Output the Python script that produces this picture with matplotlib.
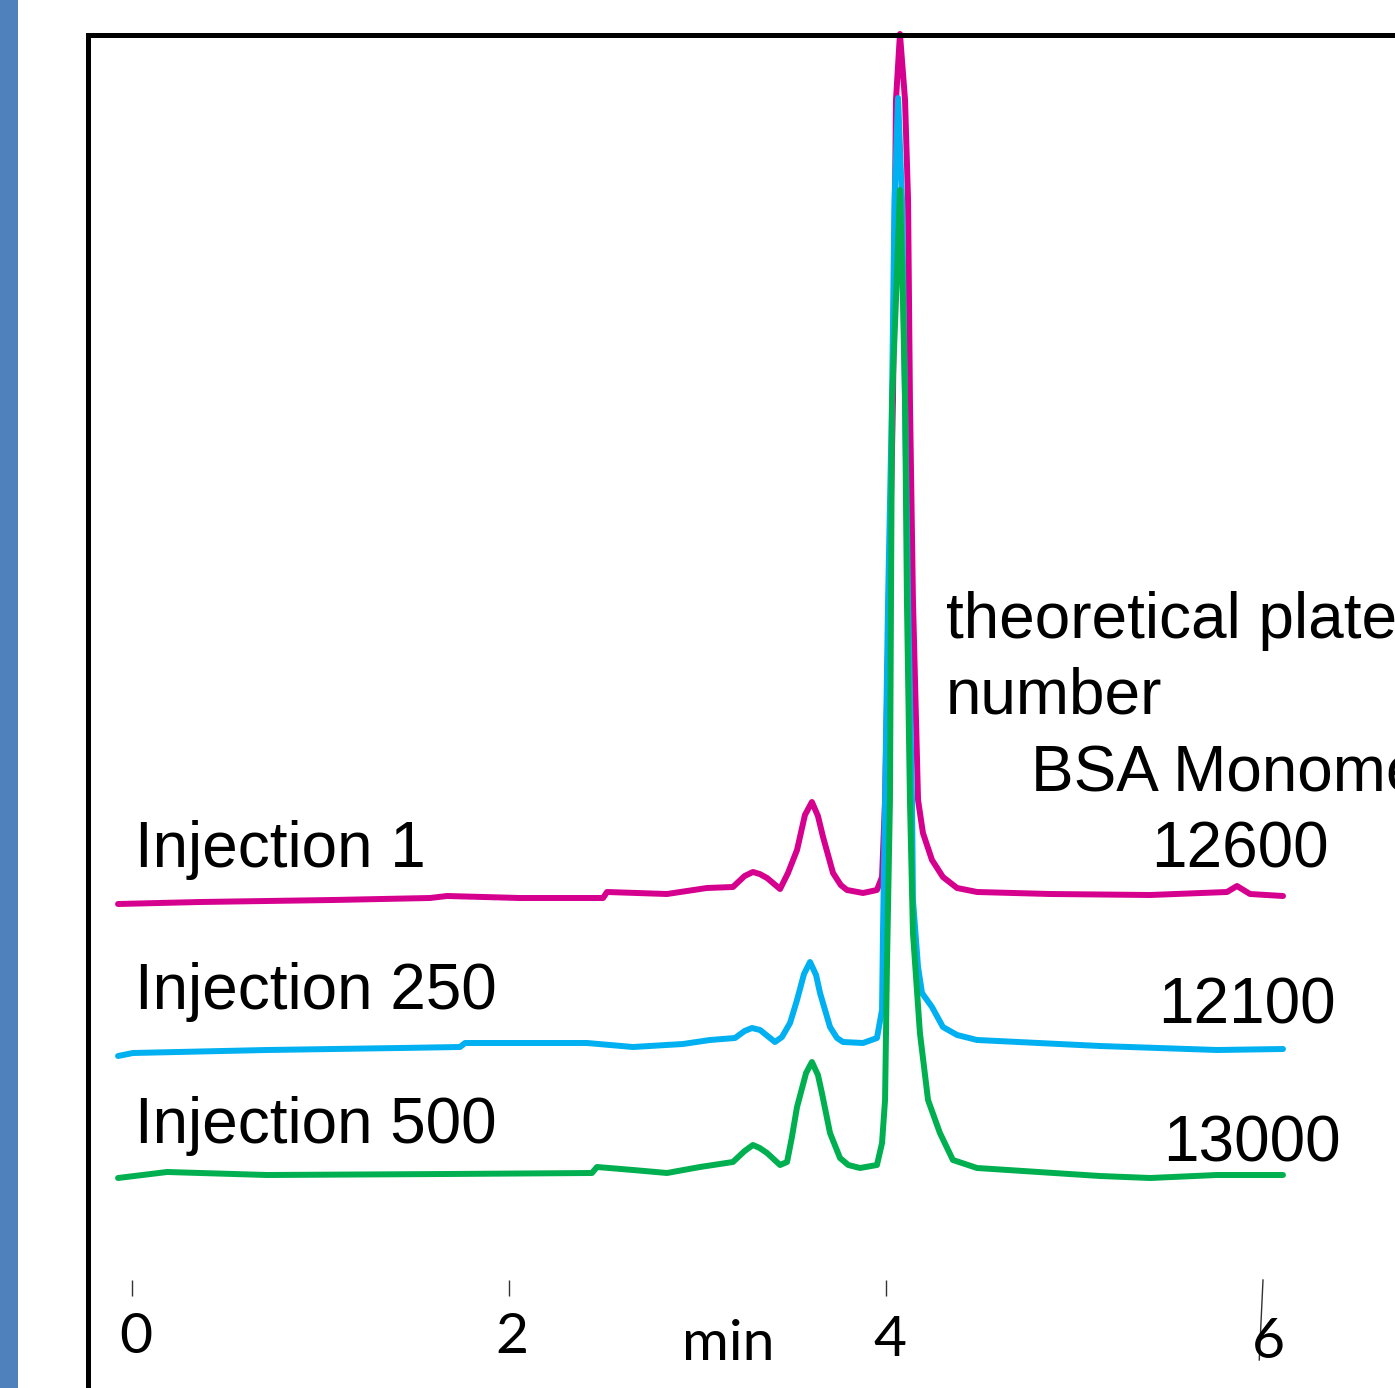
import matplotlib.pyplot as plt
from matplotlib.patches import Rectangle

# chromatogram traces: time (min) and signal (arbitrary units)
t_inj1 = [-0.074, 0.361, 1.066, 1.581, 1.671, 2.058, 2.499, 2.520, 2.838, 3.050,
          3.188, 3.250, 3.294, 3.330, 3.369, 3.438, 3.480, 3.528, 3.570, 3.607,
          3.639, 3.666, 3.719, 3.760, 3.793, 3.878, 3.952, 3.979, 3.995, 4.016,
          4.037, 4.053, 4.074, 4.101, 4.117, 4.127, 4.143, 4.170, 4.196, 4.244,
          4.302, 4.377, 4.483, 4.870, 5.401, 5.809, 5.862, 5.931, 6.106]
s_inj1 = [-4, -2, 0, 2, 4, 2, 2, 8, 6, 12,
          13, 24, 28, 26, 22, 11, 27, 50, 85, 98,
          84, 63, 27, 15, 10, 7, 10, 23, 100, 300,
          500, 800, 866, 800, 700, 500, 300, 100, 67, 40,
          23, 12, 8, 6, 5, 8, 14, 6, 4]

t_inj250 = [-0.074, 0.005, 0.716, 1.422, 1.740, 1.767, 2.414, 2.658, 2.923, 3.066,
            3.199, 3.250, 3.289, 3.332, 3.411, 3.448, 3.491, 3.528, 3.565, 3.597,
            3.629, 3.650, 3.703, 3.740, 3.772, 3.878, 3.952, 3.979, 3.984, 3.995,
            4.011, 4.032, 4.045, 4.064, 4.085, 4.101, 4.117, 4.138, 4.143, 4.170,
            4.191, 4.244, 4.302, 4.377, 4.483, 5.135, 5.756, 6.106]
s_inj250 = [-6, -3, 0, 2, 3, 7, 7, 3, 6, 10,
            12, 19, 22, 20, 8, 13, 27, 50, 76, 88,
            75, 57, 23, 12, 8, 7, 12, 40, 117, 250,
            450, 650, 850, 952, 850, 650, 450, 250, 150, 83,
            57, 43, 23, 15, 10, 4, 0, 1]

t_inj500 = [-0.074, 0.186, 0.716, 1.671, 2.440, 2.467, 2.658, 2.838, 3.013, 3.188,
            3.250, 3.294, 3.330, 3.369, 3.438, 3.475, 3.500, 3.528, 3.576, 3.607,
            3.639, 3.660, 3.703, 3.756, 3.800, 3.862, 3.952, 3.979, 3.995, 4.005,
            4.021, 4.032, 4.053, 4.074, 4.090, 4.101, 4.111, 4.127, 4.143, 4.180,
            4.223, 4.286, 4.355, 4.483, 5.135, 5.401, 5.756, 6.106]
s_inj500 = [-5, 1, -2, -1, 0, 6, 3, 0, 6, 11,
            22, 28, 25, 20, 8, 11, 35, 66, 100, 111,
            98, 80, 40, 15, 8, 5, 8, 30, 73, 206,
            373, 773, 873, 983, 873, 773, 573, 373, 240, 140,
            73, 40, 13, 5, -3, -5, -2, -2]

labels = ["Injection 1", "Injection 250", "Injection 500"]
plate_numbers = ["12600", "12100", "13000"]
x_ticks = [0, 2, 4, 6]

W, H = 1395, 1388
fig = plt.figure(figsize=(W / 100, H / 100), dpi=100)
ax = fig.add_axes([0, 0, 1, 1])
ax.set_xlim(-132 / 188.5, (W - 132) / 188.5)
ax.set_ylim(0, H)
ax.axis('off')


def fx(x, y):
    return x / W, 1 - y / H


# blue bar of the slide on the left
fig.patches.append(Rectangle((0, 0), 18 / W, 1, transform=fig.transFigure,
                             facecolor='#4F81BD', edgecolor='none'))
# black frame of the chart
fig.patches.append(Rectangle(fx(87.5, H + 50), (W + 50) / W, (H + 50 - 34.5) / H,
                             transform=fig.transFigure, facecolor='none',
                             edgecolor='black', linewidth=3.6))

traces = [(t_inj1, s_inj1, 488, '#D6008F'),
          (t_inj250, s_inj250, 338, '#00B0F0'),
          (t_inj500, s_inj500, 215, '#00B050')]
for t, s, off, col in traces:
    ax.plot(t, [off + v for v in s], color=col, linewidth=4.3,
            solid_capstyle='round', solid_joinstyle='round')

# tick marks
ax.vlines(x_ticks[:3], H - 1296, H - 1280, color='#333333', linewidth=1.0)
ax.plot([6, 5.98], [H - 1280, H - 1360], color='#333333', linewidth=1.0)

arial = 'Liberation Sans'
calibri = 'Lato'

for lab, yb in zip(labels, [867, 1009, 1143]):
    fig.text(*fx(135, yb), lab, fontsize=46, family=arial, va='baseline', ha='left')

for num, xb, yb in zip(plate_numbers, [1151, 1158, 1163], [868, 1023, 1162]):
    fig.text(*fx(xb, yb), num, fontsize=46, family=arial, va='baseline', ha='left')

fig.text(*fx(946, 638), "theoretical plate", fontsize=46, family=arial, va='baseline', ha='left')
fig.text(*fx(946, 713), "number", fontsize=46, family=arial, va='baseline', ha='left')
fig.text(*fx(1031, 792), "BSA Monomer", fontsize=46, family=arial, va='baseline', ha='left')

for tk, xc, yb in zip(x_ticks, [136, 512, 890, 1268], [1353, 1353, 1356, 1358]):
    fig.text(*fx(xc, yb), str(tk), fontsize=41, family=calibri, va='baseline', ha='center')
fig.text(*fx(682, 1360), "min", fontsize=41, family=calibri, va='baseline', ha='left')

fig.savefig('out.png', dpi=100)
